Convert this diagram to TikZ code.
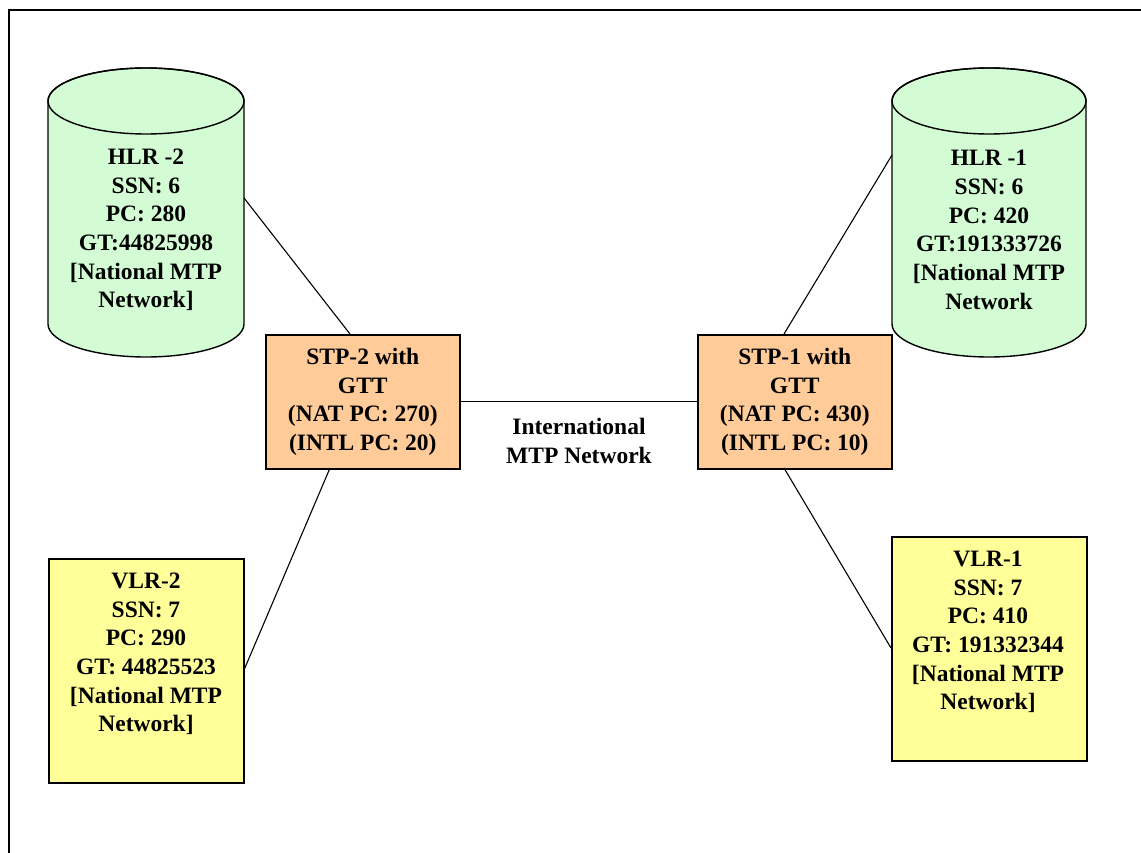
\documentclass[tikz,border=0pt]{standalone}
\usepackage{fontspec}
\setmainfont{Liberation Serif}
\definecolor{hlrgreen}{RGB}{212,252,212}
\definecolor{stporange}{RGB}{255,204,153}
\definecolor{vlryellow}{RGB}{255,255,153}
\begin{document}
\begin{tikzpicture}[x=1pt,y=-1pt,
  txt/.style={align=center,inner sep=0pt,font=\fontsize{23.5}{28.7}\selectfont\bfseries},
  stpbox/.style={draw,line width=1.6pt,fill=stporange,minimum width=194pt,minimum height=134pt,inner sep=0pt,anchor=north west},
  vlrbox/.style={draw,line width=1.6pt,fill=vlryellow,minimum width=195pt,minimum height=224pt,inner sep=0pt,anchor=north west},
  cyl/.style={draw,line width=1.4pt,fill=hlrgreen},
  link/.style={draw,line width=1.1pt}]
\useasboundingbox (0,0) rectangle (1141,853);
\draw[line width=2pt] (9,853) -- (9,10) -- (1141,10);
% HLR-2 cylinder
\path[cyl] (48,101) -- (48,324) arc[start angle=180,end angle=0,x radius=98,y radius=33] -- (244,101) arc[start angle=0,end angle=-180,x radius=98,y radius=33] -- cycle;
\draw[line width=1.4pt] (146,101) ellipse[x radius=98,y radius=33];
\node[txt] (hlr2) at (146,230) {HLR -2\\SSN: 6\\PC: 280\\GT:44825998\\{[}National MTP\\Network]};
\coordinate (hlr2p) at (244,198);
% HLR-1 cylinder
\path[cyl] (892,101) -- (892,324) arc[start angle=180,end angle=0,x radius=97,y radius=33] -- (1086,101) arc[start angle=0,end angle=-180,x radius=97,y radius=33] -- cycle;
\draw[line width=1.4pt] (989,101) ellipse[x radius=97,y radius=33];
\node[txt] (hlr1) at (989,230) {HLR -1\\SSN: 6\\PC: 420\\GT:191333726\\{[}National MTP\\Network};
\coordinate (hlr1p) at (892,155);
% STP boxes
\node[stpbox] (stp2) at (265,334) {};
\node[txt] (stp2t) at (stp2.center) {STP-2 with\\GTT\\(NAT PC: 270)\\(INTL PC: 20)};
\node[stpbox] (stp1) at (697,334) {};
\node[txt] (stp1t) at (stp1.center) {STP-1 with\\GTT\\(NAT PC: 430)\\(INTL PC: 10)};
% VLR boxes
\node[vlrbox] (vlr2) at (48,558) {};
\node[txt] (vlr2t) at (146,654) {VLR-2\\SSN: 7\\PC: 290\\GT: 44825523\\{[}National MTP\\Network]};
\node[vlrbox] (vlr1) at (891,536) {};
\node[txt] (vlr1t) at (988,632) {VLR-1\\SSN: 7\\PC: 410\\GT: 191332344\\{[}National MTP\\Network]};
% label
\node[txt] (intl) at (579,441) {International\\MTP Network};
% connectors
\coordinate (stp2top) at (350,334);
\coordinate (stp1top) at (784,334);
\coordinate (stp2bot) at (330,468);
\coordinate (stp1bot) at (784,468);
\coordinate (vlr2p) at (244,670);
\coordinate (vlr1p) at (891,648);
\path[link] (hlr2p) -- (stp2top);
\path[link] (hlr1p) -- (stp1top);
\path[link] (stp2.east) -- (stp1.west);
\path[link] (stp2bot) -- (vlr2p);
\path[link] (stp1bot) -- (vlr1p);
\end{tikzpicture}
\end{document}
